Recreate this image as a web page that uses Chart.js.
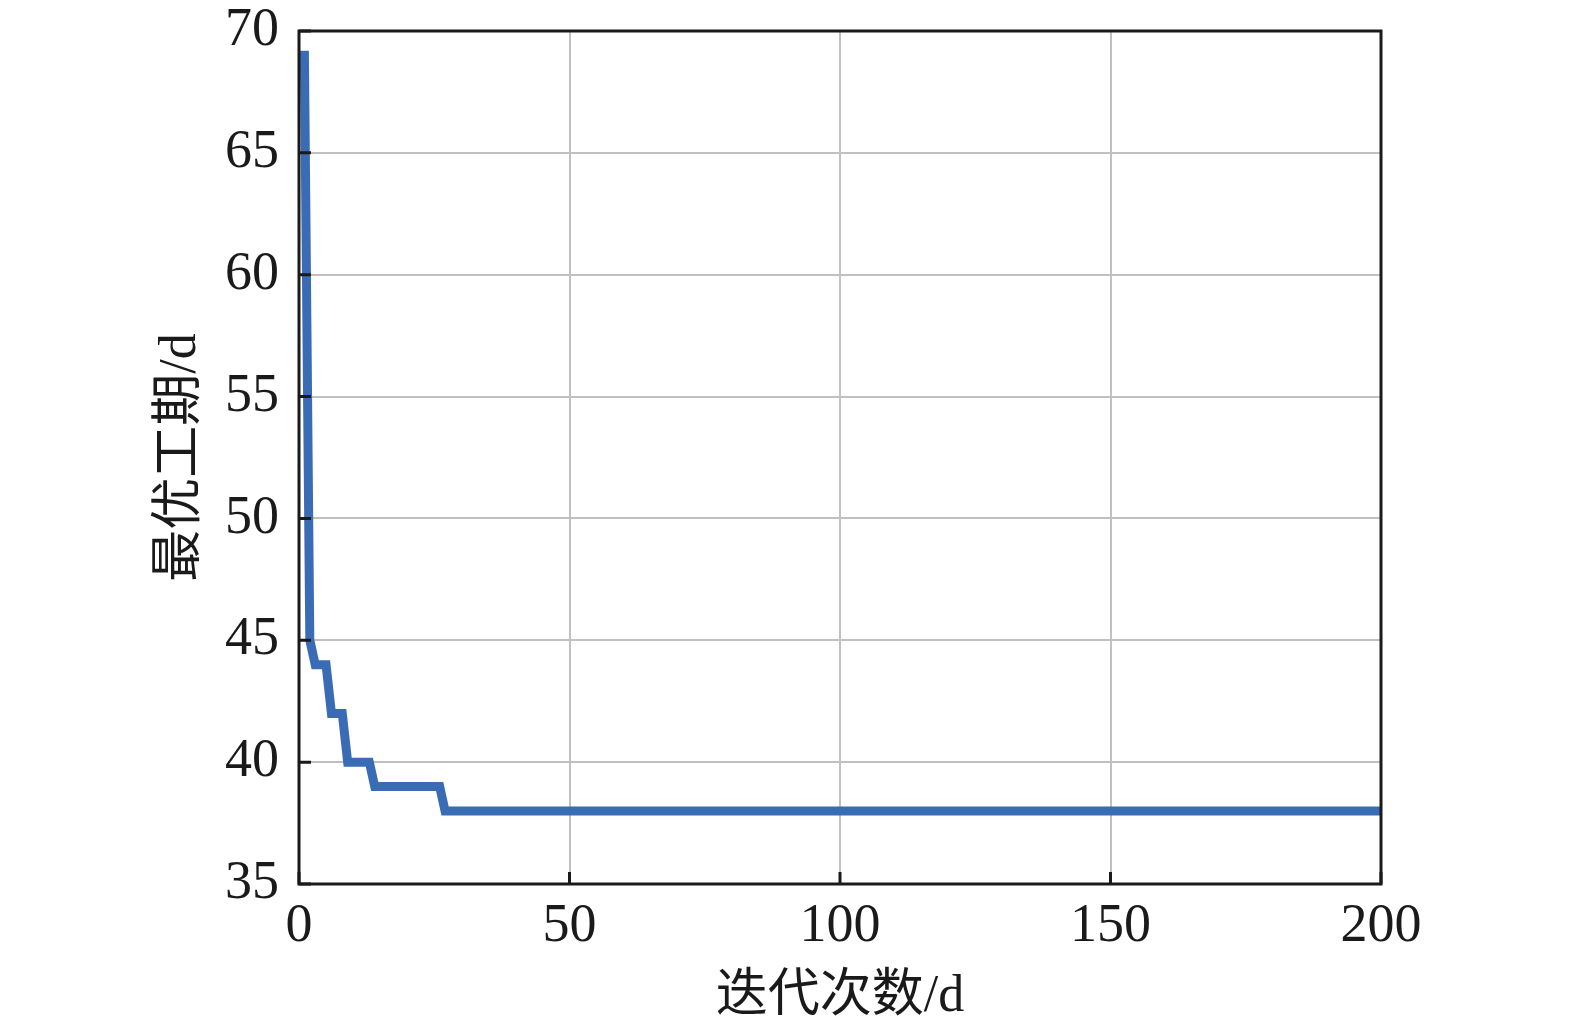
<!DOCTYPE html>
<html>
<head>
<meta charset="utf-8">
<script src="https://cdn.jsdelivr.net/npm/chart.js@4"></script>
<style>
  html, body { margin: 0; padding: 0; background: #fff; }
  #wrap { width: 1575px; height: 1029px; }
</style>
</head>
<body>
<div id="wrap"><canvas id="chart" width="1575" height="1029"></canvas></div>
<script>
// iterations where the best value changes (line is straight in between)
const iterations = [0, 1, 2, 3, 5, 6, 8, 9, 13, 14, 26, 27, 200];
const bestDuration = [69, 69, 45, 44, 44, 42, 42, 40, 40, 39, 39, 38, 38];

const xTicks = [0, 50, 100, 150, 200];
const yTicks = [35, 40, 45, 50, 55, 60, 65, 70];

const xTitle = "迭代次数/d";
const yTitle = "最优工期/d";

const fontFamily = "'Liberation Serif', 'Noto Sans CJK SC', serif";

// black frame + inward tick marks
const frame = {
  id: "frame",
  afterDraw(chart) {
    const { ctx, chartArea: a, scales } = chart;
    ctx.save();
    ctx.strokeStyle = "#1a1a1a";
    ctx.lineWidth = 3;
    ctx.beginPath();
    yTicks.forEach(v => {
      const y = scales.y.getPixelForValue(v);
      ctx.moveTo(a.left, y);
      ctx.lineTo(a.left + 12, y);
    });
    xTicks.forEach(v => {
      const x = scales.x.getPixelForValue(v);
      ctx.moveTo(x, a.bottom);
      ctx.lineTo(x, a.bottom - 12);
    });
    ctx.stroke();
    ctx.strokeRect(a.left, a.top, a.right - a.left, a.bottom - a.top);
    ctx.restore();
  }
};

new Chart(document.getElementById("chart"), {
  type: "line",
  data: {
    datasets: [{
      data: iterations.map((x, i) => ({ x: x, y: bestDuration[i] })),
      borderColor: "#3a6cb5",
      borderWidth: 9,
      pointRadius: 0,
      tension: 0,
      fill: false
    }]
  },
  options: {
    responsive: false,
    animation: false,
    layout: { padding: { top: 31, right: 194, left: 0, bottom: 0 } },
    plugins: { legend: { display: false }, tooltip: { enabled: false } },
    scales: {
      x: {
        type: "linear",
        min: 0, max: 200,
        afterFit: s => { s.height = 1029 - 884; s.paddingLeft = 0; s.paddingRight = 0; },
        afterBuildTicks: s => { s.ticks = xTicks.map(v => ({ value: v })); },
        grid: { color: "#c0c0c0", lineWidth: 2, drawTicks: false },
        border: { display: false },
        ticks: { color: "#1a1a1a", padding: 10, font: { family: fontFamily, size: 54 } },
        title: {
          display: true, text: xTitle, color: "#1a1a1a",
          font: { family: fontFamily, size: 52 },
          padding: { top: 0, bottom: 0 }
        }
      },
      y: {
        min: 35, max: 70,
        afterFit: s => { s.width = 299; s.paddingTop = 0; s.paddingBottom = 0; },
        afterBuildTicks: s => { s.ticks = yTicks.map(v => ({ value: v })); },
        grid: { color: "#c0c0c0", lineWidth: 2, drawTicks: false },
        border: { display: false },
        ticks: { color: "#1a1a1a", padding: 20, font: { family: fontFamily, size: 54 } },
        title: {
          display: true, text: yTitle, color: "#1a1a1a",
          font: { family: fontFamily, size: 52 },
          padding: { top: 150, bottom: 0 }
        }
      }
    }
  },
  plugins: [frame]
});
</script>
</body>
</html>
